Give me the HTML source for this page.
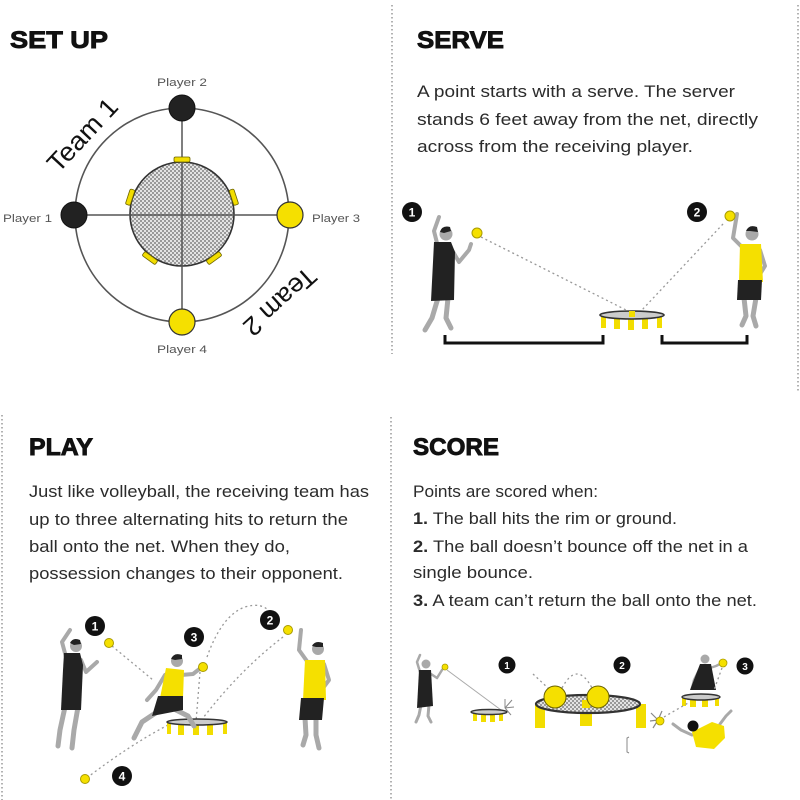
<!DOCTYPE html>
<html>
<head>
<meta charset="utf-8">
<style>
html,body{margin:0;padding:0;background:#fff;}
svg{display:block;}
text{font-family:"Liberation Sans",sans-serif;}
.h{font-weight:bold;font-size:24px;fill:#111;stroke:#111;stroke-width:0.9px;}
.b{font-size:16.5px;fill:#2b2b2b;}
.pl{font-size:11px;fill:#555;}
.num{font-size:12px;font-weight:bold;fill:#fff;text-anchor:middle;}
.num2{font-size:10px;font-weight:bold;fill:#fff;text-anchor:middle;}
.skin{stroke:#a9a9a9;fill:none;stroke-linecap:round;stroke-linejoin:round;}
.dot{stroke:#999;stroke-width:1.3;fill:none;stroke-dasharray:2 3;}
</style>
</head>
<body>
<svg width="800" height="800" viewBox="0 0 800 800" xmlns="http://www.w3.org/2000/svg">
<defs>
<pattern id="chk" width="4" height="4" patternUnits="userSpaceOnUse">
<rect width="4" height="4" fill="#e4e4e4"/>
<rect width="2" height="2" fill="#9a9a9a"/>
<rect x="2" y="2" width="2" height="2" fill="#9a9a9a"/>
</pattern>
</defs>
<rect width="800" height="800" fill="#fff"/>

<!-- dividers -->
<line x1="392" y1="5" x2="392" y2="354" stroke="#999" stroke-width="1.5" stroke-dasharray="1.5 2.5"/>
<line x1="798" y1="5" x2="798" y2="393" stroke="#999" stroke-width="1.5" stroke-dasharray="1.5 2.5"/>
<line x1="391" y1="417" x2="391" y2="800" stroke="#999" stroke-width="1.5" stroke-dasharray="1.5 2.5"/>
<line x1="2" y1="415" x2="2" y2="800" stroke="#999" stroke-width="1.5" stroke-dasharray="1.5 2.5"/>

<!-- ================= SET UP ================= -->
<text class="h" x="10" y="48" textLength="98" lengthAdjust="spacingAndGlyphs">SET UP</text>

<circle cx="182" cy="215" r="107" fill="none" stroke="#555" stroke-width="1.6"/>
<circle cx="182" cy="214" r="52" fill="url(#chk)" stroke="#333" stroke-width="1.6"/>
<line x1="74" y1="215" x2="290" y2="215" stroke="#555" stroke-width="1.5"/>
<line x1="182" y1="108" x2="182" y2="322" stroke="#555" stroke-width="1.5"/>
<g fill="#f2dd00" stroke="#6b6300" stroke-width="0.8">
<rect x="174" y="157" width="16" height="5" rx="1.5" transform="rotate(0 182 214)"/>
<rect x="174" y="157" width="16" height="5" rx="1.5" transform="rotate(72 182 214)"/>
<rect x="174" y="157" width="16" height="5" rx="1.5" transform="rotate(-72 182 214)"/>
<rect x="174" y="157" width="16" height="5" rx="1.5" transform="rotate(144 182 214)"/>
<rect x="174" y="157" width="16" height="5" rx="1.5" transform="rotate(-144 182 214)"/>
</g>
<circle cx="182" cy="108" r="13" fill="#222" stroke="#111" stroke-width="1"/>
<circle cx="74" cy="215" r="13" fill="#222" stroke="#111" stroke-width="1"/>
<circle cx="290" cy="215" r="13" fill="#f5e000" stroke="#333" stroke-width="1.2"/>
<circle cx="182" cy="322" r="13" fill="#f5e000" stroke="#333" stroke-width="1.2"/>

<text class="pl" x="157" y="86" textLength="50" lengthAdjust="spacingAndGlyphs">Player 2</text>
<text class="pl" x="3" y="222" textLength="49" lengthAdjust="spacingAndGlyphs">Player 1</text>
<text class="pl" x="312" y="222" textLength="48" lengthAdjust="spacingAndGlyphs">Player 3</text>
<text class="pl" x="157" y="353" textLength="50" lengthAdjust="spacingAndGlyphs">Player 4</text>

<text x="0" y="0" font-size="26" fill="#111" text-anchor="middle" textLength="90" lengthAdjust="spacingAndGlyphs" transform="translate(89 141) rotate(-47)">Team  1</text>
<text x="0" y="0" font-size="26" fill="#111" text-anchor="middle" textLength="88" lengthAdjust="spacingAndGlyphs" transform="translate(274 295) rotate(138)">Team  2</text>

<!-- ================= SERVE ================= -->
<text class="h" x="417" y="48" textLength="87" lengthAdjust="spacingAndGlyphs">SERVE</text>
<text class="b" x="417" y="97" textLength="318" lengthAdjust="spacingAndGlyphs">A point starts with a serve. The server</text>
<text class="b" x="417" y="125" textLength="341" lengthAdjust="spacingAndGlyphs">stands 6 feet away from the net, directly</text>
<text class="b" x="417" y="152" textLength="276" lengthAdjust="spacingAndGlyphs">across from the receiving player.</text>

<circle cx="412" cy="212" r="10" fill="#111"/>
<text class="num" x="412" y="216.5">1</text>
<circle cx="697" cy="212" r="10" fill="#111"/>
<text class="num" x="697" y="216.5">2</text>

<!-- brackets -->
<path d="M445,335 L445,343 L603,343 L603,335" stroke="#111" stroke-width="3" fill="none"/>
<path d="M662,335 L662,343 L747,343 L747,335" stroke="#111" stroke-width="3" fill="none"/>

<!-- dotted serve path -->
<path class="dot" d="M481,237 L628,311"/>
<path class="dot" d="M723,224 L641,311"/>

<!-- net -->
<g>
<rect x="601" y="316" width="5" height="12" fill="#f2dd00"/>
<rect x="614" y="318" width="6" height="11" fill="#f2dd00"/>
<rect x="628" y="318" width="6" height="12" fill="#f2dd00"/>
<rect x="642" y="318" width="6" height="11" fill="#f2dd00"/>
<rect x="657" y="316" width="5" height="12" fill="#f2dd00"/>
<ellipse cx="632" cy="315" rx="32" ry="4" fill="#ccc" stroke="#333" stroke-width="1.6"/>
<rect x="629" y="311" width="6" height="6" fill="#f2dd00"/>
</g>

<!-- player 1 serve (black) -->
<g>
<path class="skin" stroke-width="4" d="M438,247 L434,231 L439,217"/>
<path class="skin" stroke-width="4" d="M452,250 L459,262 L469,250 L471,244"/>
<path class="skin" stroke-width="5" d="M438,298 L432,318 L425,330"/>
<path class="skin" stroke-width="5" d="M448,298 L446,318 L451,328"/>
<path d="M434,242 L451,242 L455,252 L454,300 L431,301 L433,262 Z" fill="#222"/>
<circle cx="446" cy="234" r="6.5" fill="#a9a9a9"/>
<path d="M440,232 Q442,225 450,227 L451,231 L444,233 Z" fill="#222"/>
</g>
<circle cx="477" cy="233" r="5" fill="#f5e000" stroke="#a99b00" stroke-width="1"/>

<!-- player 2 serve (yellow) -->
<g>
<path class="skin" stroke-width="4" d="M743,248 L733,238 L737,214"/>
<path class="skin" stroke-width="4" d="M760,250 L765,266 L760,274"/>
<path class="skin" stroke-width="5" d="M744,298 L746,316 L742,325"/>
<path class="skin" stroke-width="5" d="M756,298 L753,316 L756,326"/>
<path d="M740,244 L761,244 L763,282 L739,282 Z" fill="#f5e000"/>
<path d="M738,280 L762,280 L761,300 L737,300 Z" fill="#222"/>
<circle cx="752" cy="234" r="6.5" fill="#a9a9a9"/>
<path d="M746,231 Q749,224 757,227 L758,232 L750,231 Z" fill="#222"/>
</g>
<circle cx="730" cy="216" r="5" fill="#f5e000" stroke="#a99b00" stroke-width="1"/>

<!-- ================= PLAY ================= -->
<text class="h" x="29" y="455" textLength="64" lengthAdjust="spacingAndGlyphs">PLAY</text>
<text class="b" x="29" y="497" textLength="340" lengthAdjust="spacingAndGlyphs">Just like volleyball, the receiving team has</text>
<text class="b" x="29" y="525" textLength="319" lengthAdjust="spacingAndGlyphs">up to three alternating hits to return the</text>
<text class="b" x="29" y="552" textLength="261" lengthAdjust="spacingAndGlyphs">ball onto the net. When they do,</text>
<text class="b" x="29" y="579" textLength="314" lengthAdjust="spacingAndGlyphs">possession changes to their opponent.</text>

<!-- dotted paths -->
<path class="dot" d="M112,646 L153,680"/>
<path class="dot" d="M207,657 Q222,615 245,607 Q262,602 270,612"/>
<path class="dot" d="M283,637 Q240,670 203,718"/>
<path class="dot" d="M200,672 L196,722"/>
<path class="dot" d="M168,725 Q130,745 88,777"/>

<!-- play net -->
<g>
<rect x="167" y="723" width="4" height="11" fill="#f2dd00"/>
<rect x="178" y="724" width="6" height="11" fill="#f2dd00"/>
<rect x="193" y="724" width="6" height="11" fill="#f2dd00"/>
<rect x="207" y="724" width="6" height="11" fill="#f2dd00"/>
<rect x="223" y="723" width="4" height="11" fill="#f2dd00"/>
<ellipse cx="197" cy="722" rx="30" ry="3" fill="#ccc" stroke="#333" stroke-width="1.6"/>
</g>

<!-- left player (black) -->
<g>
<path class="skin" stroke-width="4" d="M66,657 L62,642 L70,630"/>
<path class="skin" stroke-width="4" d="M81,660 L86,672 L97,662"/>
<path class="skin" stroke-width="5" d="M65,707 L60,730 L58,746"/>
<path class="skin" stroke-width="5" d="M78,707 L74,730 L72,748"/>
<path d="M64,653 L80,653 L83,665 L81,710 L61,710 L63,670 Z" fill="#222"/>
<circle cx="76" cy="646" r="6" fill="#a9a9a9"/>
<path d="M70,643 Q73,637 80,640 L81,644 L74,645 Z" fill="#222"/>
</g>
<circle cx="109" cy="643" r="4.5" fill="#f5e000" stroke="#a99b00" stroke-width="1"/>

<!-- player 3 (yellow, lunging) -->
<g>
<path class="skin" stroke-width="4" d="M181,675 L193,674 L202,667"/>
<path class="skin" stroke-width="4" d="M165,675 L156,690 L147,700"/>
<path class="skin" stroke-width="5" d="M157,712 L142,722 L134,738"/>
<path class="skin" stroke-width="5" d="M176,710 L188,716 L194,726"/>
<path d="M166,668 L184,670 L183,698 L160,698 Z" fill="#f5e000"/>
<path d="M158,696 L183,696 L183,710 L152,716 Z" fill="#222"/>
<circle cx="177" cy="661" r="6" fill="#a9a9a9"/>
<path d="M171,659 Q174,652 182,655 L182,659 L175,660 Z" fill="#222"/>
</g>
<circle cx="203" cy="667" r="4.5" fill="#f5e000" stroke="#a99b00" stroke-width="1"/>

<!-- right player 2 (yellow) -->
<g>
<path class="skin" stroke-width="4" d="M309,664 L299,650 L301,630"/>
<path class="skin" stroke-width="4" d="M324,664 L329,680 L323,688"/>
<path class="skin" stroke-width="5" d="M305,718 L306,735 L303,745"/>
<path class="skin" stroke-width="5" d="M316,718 L316,735 L319,748"/>
<path d="M305,660 L325,660 L326,700 L303,700 Z" fill="#f5e000"/>
<path d="M301,698 L324,698 L322,720 L299,720 Z" fill="#222"/>
<circle cx="318" cy="649" r="6" fill="#a9a9a9"/>
<path d="M312,646 Q315,640 323,643 L323,647 L316,647 Z" fill="#222"/>
</g>
<circle cx="288" cy="630" r="4.5" fill="#f5e000" stroke="#a99b00" stroke-width="1"/>
<circle cx="85" cy="779" r="4.5" fill="#f5e000" stroke="#a99b00" stroke-width="1"/>

<circle cx="95" cy="626" r="10" fill="#111"/>
<text class="num" x="95" y="630.5">1</text>
<circle cx="194" cy="637" r="10" fill="#111"/>
<text class="num" x="194" y="641.5">3</text>
<circle cx="270" cy="620" r="10" fill="#111"/>
<text class="num" x="270" y="624.5">2</text>
<circle cx="122" cy="776" r="10" fill="#111"/>
<text class="num" x="122" y="780.5">4</text>

<!-- ================= SCORE ================= -->
<text class="h" x="413" y="455" textLength="86" lengthAdjust="spacingAndGlyphs">SCORE</text>
<text class="b" x="413" y="497" textLength="185" lengthAdjust="spacingAndGlyphs">Points are scored when:</text>
<text class="b" x="413" y="524" textLength="264" lengthAdjust="spacingAndGlyphs"><tspan font-weight="bold">1.</tspan> The ball hits the rim or ground.</text>
<text class="b" x="413" y="552" textLength="335" lengthAdjust="spacingAndGlyphs"><tspan font-weight="bold">2.</tspan> The ball doesn’t bounce off the net in a</text>
<text class="b" x="413" y="578" textLength="120" lengthAdjust="spacingAndGlyphs">single bounce.</text>
<text class="b" x="413" y="606" textLength="344" lengthAdjust="spacingAndGlyphs"><tspan font-weight="bold">3.</tspan> A team can’t return the ball onto the net.</text>

<!-- score 1 -->
<g>
<path class="skin" stroke-width="2.5" d="M420,672 L417,662 L420,655"/>
<path class="skin" stroke-width="2.5" d="M431,674 L437,678 L442,670"/>
<path class="skin" stroke-width="3" d="M421,705 L419,715 L416,722"/>
<path class="skin" stroke-width="3" d="M429,705 L428,716 L431,722"/>
<path d="M419,670 L431,670 L433,706 L417,708 Z" fill="#222"/>
<circle cx="426" cy="664" r="4.5" fill="#a9a9a9"/>
</g>
<circle cx="445" cy="667" r="3" fill="#f5e000" stroke="#a99b00" stroke-width="0.8"/>
<line x1="447" y1="670" x2="501" y2="710" stroke="#aaa" stroke-width="1"/>
<g>
<rect x="473" y="712" width="4" height="9" fill="#f2dd00"/>
<rect x="481" y="713" width="5" height="9" fill="#f2dd00"/>
<rect x="490" y="713" width="5" height="9" fill="#f2dd00"/>
<rect x="499" y="712" width="4" height="9" fill="#f2dd00"/>
<ellipse cx="489" cy="712" rx="18" ry="2.5" fill="#ccc" stroke="#333" stroke-width="1.4"/>
<path d="M505,708 L512,700 M505,708 L514,707 M505,708 L511,715 M505,708 L505,699" stroke="#888" stroke-width="1"/>
</g>
<circle cx="507" cy="665" r="8.5" fill="#111"/>
<text class="num2" x="507" y="669">1</text>

<!-- score 2 -->
<path class="dot" d="M533,674 L548,688"/>
<path class="dot" d="M562,688 Q577,660 592,688"/>
<g>
<rect x="535" y="704" width="10" height="24" fill="#f2dd00"/>
<rect x="580" y="712" width="12" height="14" fill="#f2dd00"/>
<rect x="636" y="704" width="10" height="24" fill="#f2dd00"/>
<ellipse cx="588" cy="704" rx="52" ry="9" fill="url(#chk)" stroke="#333" stroke-width="2.2"/>
<rect x="582" y="700" width="8" height="8" fill="#f2dd00"/>
<circle cx="555" cy="697" r="11" fill="#f5e000" stroke="#6b6300" stroke-width="1"/>
<circle cx="598" cy="697" r="11" fill="#f5e000" stroke="#6b6300" stroke-width="1"/>
</g>
<path d="M629,737 L627,738 L627,752 L629,753" stroke="#888" stroke-width="1" fill="none"/>
<circle cx="622" cy="665" r="8.5" fill="#111"/>
<text class="num2" x="622" y="669">2</text>

<!-- score 3 -->
<g>
<path class="skin" stroke-width="2.5" d="M710,668 L716,666 L722,663"/>
<path class="skin" stroke-width="2.5" d="M699,670 L694,680 L692,688"/>
<path d="M700,664 L711,664 L716,690 L690,690 Z" fill="#222"/>
<circle cx="705" cy="659" r="4.5" fill="#a9a9a9"/>
</g>
<circle cx="723" cy="663" r="4" fill="#f5e000" stroke="#a99b00" stroke-width="0.8"/>
<path class="dot" d="M722,668 L714,690"/>
<g>
<rect x="682" y="697" width="4" height="9" fill="#f2dd00"/>
<rect x="690" y="698" width="6" height="9" fill="#f2dd00"/>
<rect x="702" y="698" width="6" height="9" fill="#f2dd00"/>
<rect x="715" y="697" width="4" height="9" fill="#f2dd00"/>
<ellipse cx="701" cy="697" rx="19" ry="3" fill="#ccc" stroke="#333" stroke-width="1.4"/>
</g>
<path class="dot" d="M664,717 L688,703"/>
<path d="M658,720 L651,713 M658,720 L650,721 M658,720 L653,728 M658,720 L662,711" stroke="#888" stroke-width="1.2"/>
<circle cx="660" cy="721" r="4" fill="#f5e000" stroke="#a99b00" stroke-width="0.8"/>
<g>
<path class="skin" stroke-width="3" d="M692,735 L681,730 L673,724"/>
<path class="skin" stroke-width="3" d="M720,724 L726,716 L731,711"/>
<path d="M692,732 L712,722 L724,726 L725,738 L714,749 L696,747 Z" fill="#f5e000"/>
<circle cx="693" cy="726" r="5.5" fill="#111"/>
</g>
<circle cx="745" cy="666" r="8.5" fill="#111"/>
<text class="num2" x="745" y="670">3</text>
</svg>
</body>
</html>
